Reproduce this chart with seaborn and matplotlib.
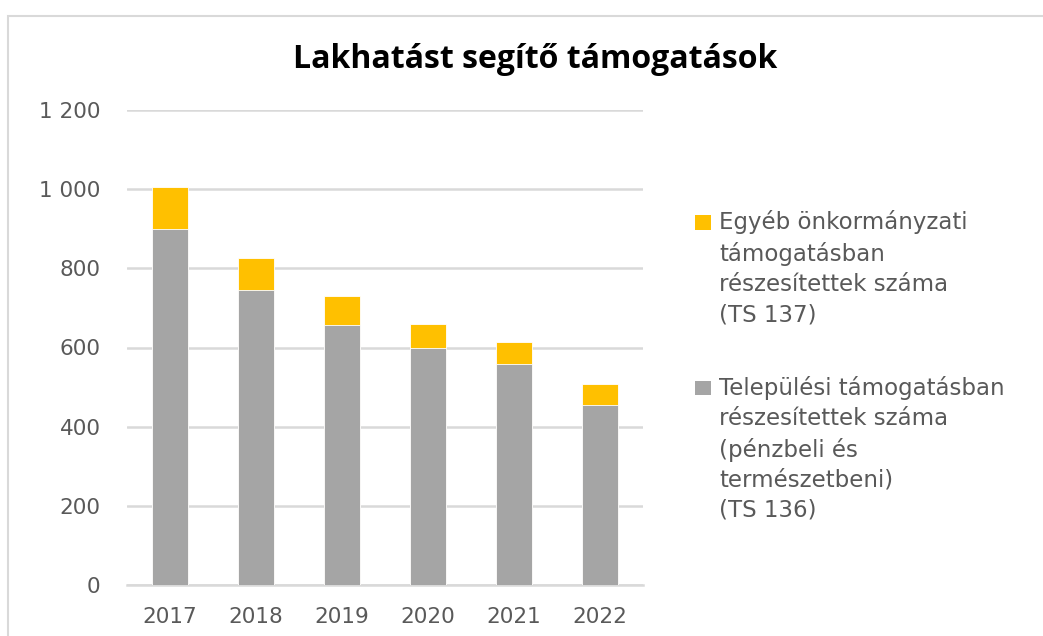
import matplotlib
matplotlib.use("Agg")
import matplotlib.pyplot as plt
import seaborn as sns
import pandas as pd
from matplotlib.patches import Patch, Rectangle
from matplotlib.legend_handler import HandlerPatch
from matplotlib.ticker import FuncFormatter

years = ["2017", "2018", "2019", "2020", "2021", "2022"]
telepulesi = [900, 745, 656, 600, 558, 455]      # TS 136 (gray, bottom)
egyeb = [105, 81, 75, 59, 55, 53]                # TS 137 (yellow, top)
label_egyeb = "Egyéb önkormányzati\ntámogatásban\nrészesítettek száma\n(TS 137)"
label_telep = "Települési támogatásban\nrészesítettek száma\n(pénzbeli és\ntermészetbeni)\n(TS 136)"
title = "Lakhatást segítő támogatások"

df = pd.DataFrame({"year": years, "telep": telepulesi, "egyeb": egyeb})
df["total"] = df["telep"] + df["egyeb"]

sns.set_theme(style="white")
plt.rcParams["font.family"] = ["DejaVu Sans"]

W, H = 1043, 636
fig = plt.figure(figsize=(W / 100, H / 100), dpi=100)
ax = fig.add_axes([127 / W, 1 - 585 / H, (643 - 127) / W, (585 - 110) / H])

yellow = "#FFC000"
gray = "#A5A5A5"
sns.barplot(data=df, x="year", y="total", color=yellow, saturation=1, width=0.41,
            ax=ax, edgecolor="white", linewidth=0.6, zorder=3)
sns.barplot(data=df, x="year", y="telep", color=gray, saturation=1, width=0.41,
            ax=ax, edgecolor="white", linewidth=0.6, zorder=3)

ax.set_ylim(0, 1200)
ax.set_yticks(range(0, 1201, 200))
ax.yaxis.set_major_formatter(FuncFormatter(lambda v, p: f"{int(v):,}".replace(",", " ")))
ax.grid(axis="y", color="#D9D9D9", linewidth=1.8, zorder=0)
ax.set_axisbelow(True)
for s in ["top", "right", "left"]:
    ax.spines[s].set_visible(False)
ax.spines["bottom"].set_color("#D9D9D9")
ax.spines["bottom"].set_linewidth(1.8)
ax.set_xlabel("")
ax.set_ylabel("")
ax.tick_params(axis="both", length=0, labelsize=15.5, labelcolor="#595959")
ax.tick_params(axis="y", pad=19)
ax.tick_params(axis="x", pad=16)

fig.text(535 / W, 1 - 60 / H, title, ha="center", va="center", fontsize=23,
         fontweight="bold", color="black", family=["Open Sans", "DejaVu Sans"])

LS = 1.40


class TopSquare(HandlerPatch):
    def __init__(self, nlines, **kw):
        super().__init__(**kw)
        self.n = nlines

    def create_artists(self, legend, orig_handle, xdescent, ydescent, width, height,
                       fontsize, trans):
        size = 0.7 * fontsize
        dy = (LS * 0.76 + 0.236) * fontsize
        base = (self.n - 1) / 2 * dy + 0.12 * fontsize
        p = Rectangle((-xdescent, base - ydescent), size, size * 0.88,
                      facecolor=orig_handle.get_facecolor(), edgecolor="none",
                      transform=trans)
        return [p]


h1 = Patch(facecolor=yellow, edgecolor="none")
h2 = Patch(facecolor=gray, edgecolor="none")
leg = fig.legend([h1, h2], [label_egyeb, label_telep], loc="upper left",
                 bbox_to_anchor=(695 / W, 1 - 210 / H), frameon=False,
                 fontsize=16.5, labelcolor="#595959", handlelength=0.7, handleheight=0.7,
                 handletextpad=0.35, labelspacing=2.17, borderaxespad=0, borderpad=0,
                 handler_map={h1: TopSquare(4), h2: TopSquare(5)})
for t in leg.get_texts():
    t.set_linespacing(LS)

fig.patches.append(Rectangle((8 / W, -0.05), 1.2, 1 - 16 / H + 0.05, transform=fig.transFigure,
                             fill=False, edgecolor="#D9D9D9", linewidth=1.5))

fig.savefig("out.png", dpi=100)
